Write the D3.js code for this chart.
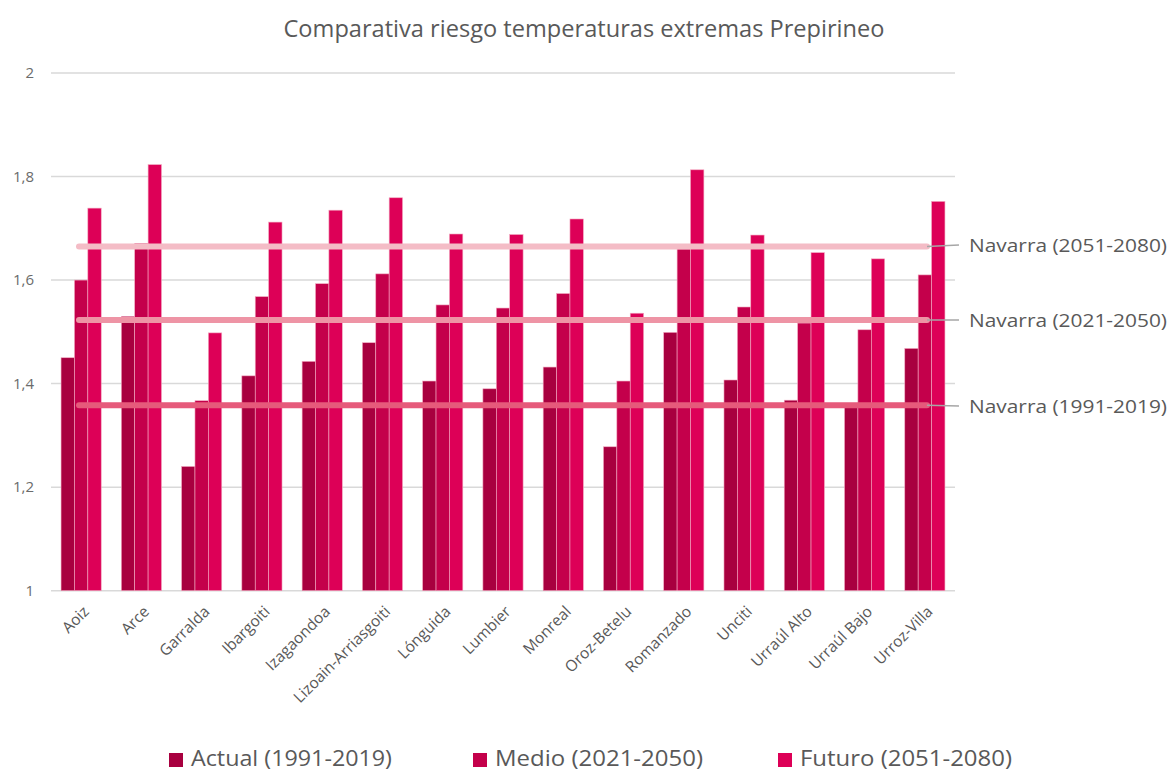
<!DOCTYPE html>
<html>
<head>
<meta charset="utf-8">
<script src="https://cdn.jsdelivr.net/npm/d3@7"></script>
<style>
  html, body { margin: 0; padding: 0; background: #fff; }
  svg { display: block; font-family: "Open Sans", "Noto Sans", sans-serif; }
</style>
</head>
<body>
<svg id="chart" width="1171" height="771"></svg>
<script>
// Municipalities of the Prepirineo area
const categories = ["Aoiz", "Arce", "Garralda", "Ibargoiti", "Izagaondoa", "Lizoain-Arriasgoiti",
  "Lónguida", "Lumbier", "Monreal", "Oroz-Betelu", "Romanzado", "Unciti",
  "Urraúl Alto", "Urraúl Bajo", "Urroz-Villa"];

// Risk index per period
const actual = [1.450, 1.530, 1.240, 1.415, 1.443, 1.479, 1.405, 1.390, 1.432, 1.278, 1.499, 1.407, 1.368, 1.357, 1.468];
const medio  = [1.600, 1.671, 1.367, 1.568, 1.593, 1.612, 1.552, 1.546, 1.574, 1.405, 1.660, 1.548, 1.517, 1.504, 1.610];
const futuro = [1.739, 1.823, 1.498, 1.712, 1.735, 1.759, 1.689, 1.688, 1.718, 1.536, 1.813, 1.687, 1.653, 1.641, 1.752];

const seriesNames = ["Actual (1991-2019)", "Medio (2021-2050)", "Futuro (2051-2080)"];
const seriesColors = ["#a8003f", "#c4004b", "#dd0057"];

// Navarra reference averages
const navarraLabels = ["Navarra (1991-2019)", "Navarra (2021-2050)", "Navarra (2051-2080)"];
const navarraValues = [1.358, 1.523, 1.665];
const navarraColors = ["#e65a7b", "#ee94a5", "#f4bcc6"];

const yTicks = [1, 1.2, 1.4, 1.6, 1.8, 2];

const svg = d3.select("#chart");
const plot = { left: 51, right: 955, top: 73, bottom: 590.7 };

const x = d3.scaleBand()
  .domain(categories)
  .range([plot.left, plot.right])
  .paddingInner(1 / 3)
  .paddingOuter(1 / 6);

const xs = d3.scaleBand()
  .domain(d3.range(3))
  .range([0, x.bandwidth()]);

const y = d3.scaleLinear().domain([1, 2]).range([plot.bottom, plot.top]);

const fmt = v => String(+v.toFixed(1)).replace(".", ",");

// Title
svg.append("text")
  .attr("x", 584).attr("y", 37)
  .attr("text-anchor", "middle")
  .attr("fill", "#595959")
  .attr("font-size", 23)
  .attr("textLength", 601)
  .attr("lengthAdjust", "spacingAndGlyphs")
  .text("Comparativa riesgo temperaturas extremas Prepirineo");

// Value axis labels
const yAxis = d3.axisLeft(y).tickValues(yTicks).tickFormat(fmt).tickSize(0).tickPadding(17);
svg.append("g")
  .attr("transform", `translate(${plot.left},0)`)
  .call(yAxis)
  .call(g => g.select(".domain").remove())
  .call(g => g.selectAll("text").attr("fill", "#6b6b6b").attr("font-size", 15)
    .attr("font-family", "'Open Sans', sans-serif"));

// Gridlines
svg.append("g")
  .selectAll("line")
  .data(yTicks)
  .join("line")
  .attr("x1", plot.left).attr("x2", plot.right)
  .attr("y1", d => y(d)).attr("y2", d => y(d))
  .attr("stroke", "#d9d9d9")
  .attr("stroke-width", 1.5);

// Bars
const seriesData = [actual, medio, futuro];
const groups = svg.append("g")
  .selectAll("g")
  .data(categories)
  .join("g")
  .attr("transform", d => `translate(${x(d)},0)`);

groups.selectAll("rect")
  .data((d, i) => seriesData.map((s, k) => ({ k, v: s[i] })))
  .join("rect")
  .attr("x", d => xs(d.k))
  .attr("width", xs.bandwidth())
  .attr("y", d => y(d.v))
  .attr("height", d => y(1) - y(d.v))
  .attr("fill", d => seriesColors[d.k])
  .attr("stroke", "#f2a9c0")
  .attr("stroke-width", 0.6);

// Navarra reference lines
const lineStart = 79, lineEnd = 927, labelX = 969;
const labelY = [406, 320, 245];
svg.append("g")
  .selectAll("line")
  .data(navarraValues)
  .join("line")
  .attr("x1", lineStart).attr("x2", lineEnd)
  .attr("y1", d => y(d)).attr("y2", d => y(d))
  .attr("stroke", (d, i) => navarraColors[i])
  .attr("stroke-width", 6)
  .attr("stroke-linecap", "round");

// Leader lines and labels
const labels = svg.append("g");
navarraValues.forEach((v, i) => {
  labels.append("line")
    .attr("x1", lineEnd).attr("y1", y(v))
    .attr("x2", labelX - 10).attr("y2", labelY[i])
    .attr("stroke", "#a6a6a6").attr("stroke-width", 1.5);
  labels.append("text")
    .attr("x", labelX).attr("y", labelY[i])
    .attr("dy", "0.35em")
    .attr("fill", "#595959")
    .attr("font-size", 19)
    .attr("textLength", 198)
    .attr("lengthAdjust", "spacingAndGlyphs")
    .text(navarraLabels[i]);
});

// Category labels
svg.append("g")
  .selectAll("text")
  .data(categories)
  .join("text")
  .attr("transform", d => `translate(${x(d) + x.bandwidth() / 2 + 5},${plot.bottom + 18}) rotate(-45)`)
  .attr("text-anchor", "end")
  .attr("dy", "0.35em")
  .attr("fill", "#595959")
  .attr("font-size", 15.5)
  .text(d => d);

// Legend
const legendX = [169, 473, 778];
const legendW = [201, 208, 212];
const legend = svg.append("g");
seriesNames.forEach((name, i) => {
  legend.append("rect")
    .attr("x", legendX[i]).attr("y", 753)
    .attr("width", 14).attr("height", 14)
    .attr("fill", seriesColors[i]);
  legend.append("text")
    .attr("x", legendX[i] + 22).attr("y", 759)
    .attr("dy", "0.35em")
    .attr("fill", "#595959")
    .attr("font-size", 21)
    .attr("textLength", legendW[i])
    .attr("lengthAdjust", "spacingAndGlyphs")
    .text(name);
});
</script>
</body>
</html>
